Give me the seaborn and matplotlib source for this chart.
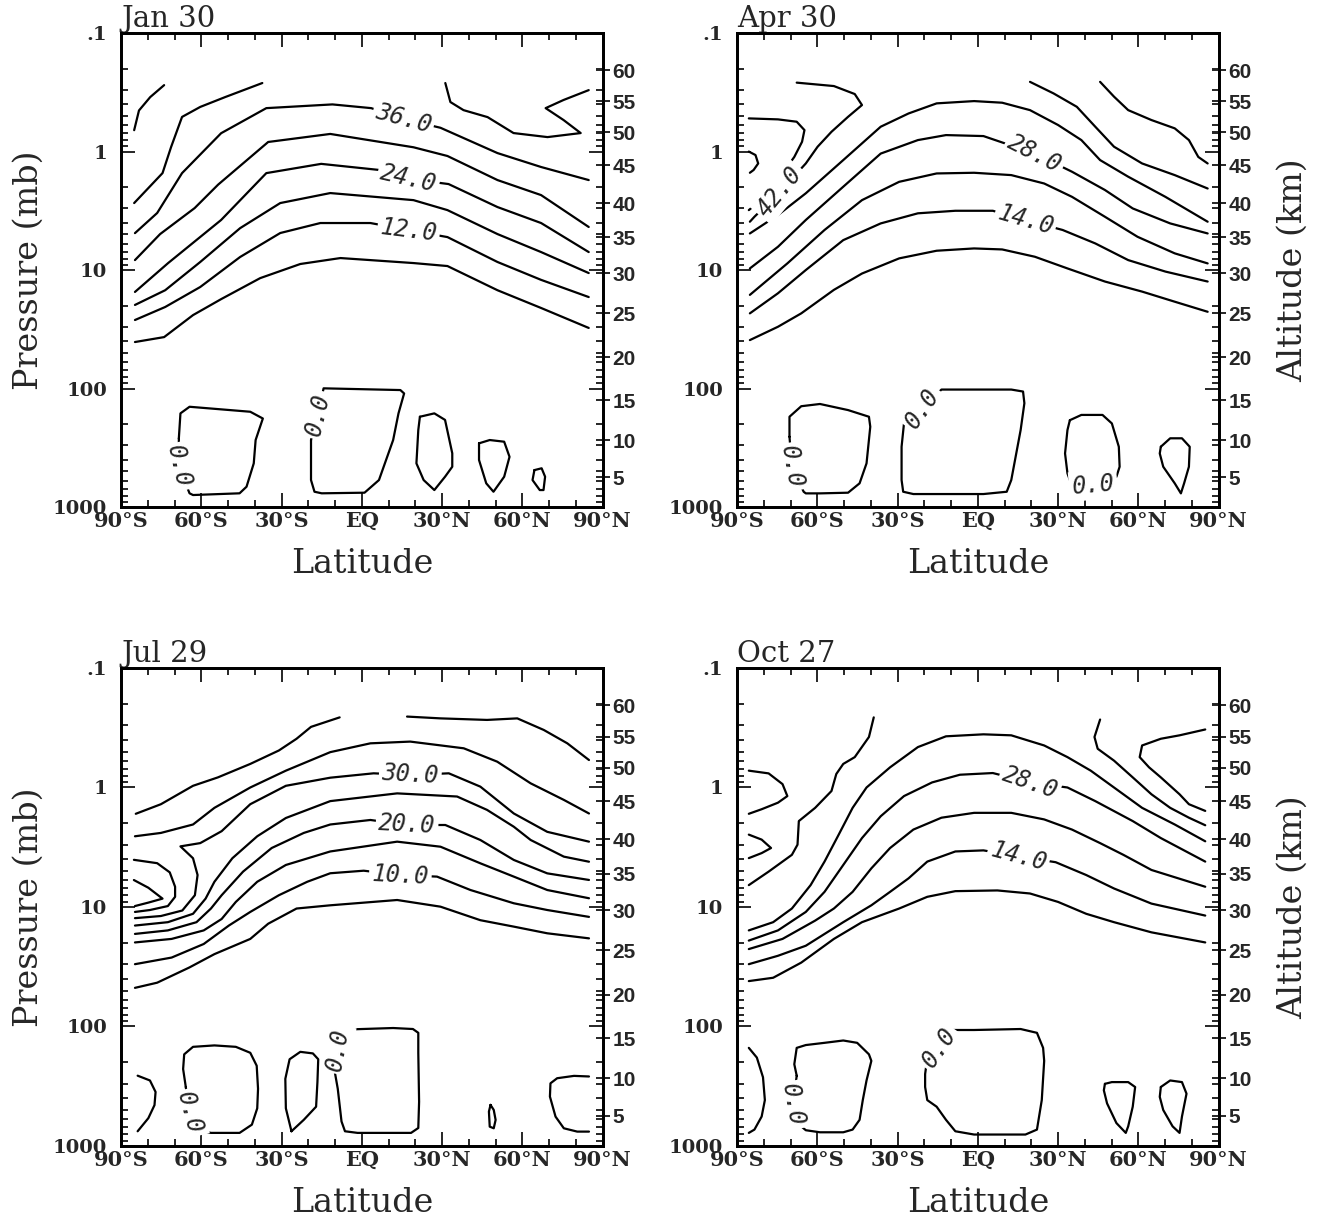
import pandas as pd
import matplotlib
matplotlib.use("Agg")
import matplotlib.pyplot as plt
import matplotlib.ticker as mticker
import seaborn as sns

OUT_PATH = "out.png"

LAT_TICKS = [-90, -60, -30, 0, 30, 60, 90]
LAT_LABELS = ["90°S", "60°S", "30°S", "EQ", "30°N", "60°N", "90°N"]
P_TICKS = [0.1, 1, 10, 100, 1000]
P_LABELS = [".1", "1", "10", "100", "1000"]
ALT_KM = [5, 10, 15, 20, 25, 30, 35, 40, 45, 50, 55, 60]
ALT_P = [559, 272, 125, 54.2, 23.1, 10.6, 5.27, 2.72, 1.30, 0.684, 0.375, 0.205]

# contour lines as (latitude, pressure mb) pairs

# --- Jan 30 ---
JAN_48 = [(-85.1, 0.66), (-83.3, 0.45), (-79.1, 0.347), (-73.9, 0.275)]
JAN_42 = [(-85.1, 2.72), (-74.5, 1.52), (-71.3, 0.916), (-67.2, 0.51), (-60.4, 0.42),
          (-51.1, 0.347), (-37.2, 0.264)]
JAN_36 = [(-84.8, 4.88), (-76.5, 3.30), (-67.2, 1.52), (-52.6, 0.70), (-35.7, 0.43),
          (-11.0, 0.40), (3.5, 0.43), (15.5, 0.53), (29.4, 0.63), (50.7, 1.03),
          (67.0, 1.35), (84.8, 1.74)]
JAN_30 = [(-84.8, 8.24), (-75.4, 4.97), (-62.5, 3.0), (-53.7, 1.9), (-35.0, 0.83),
          (-11.8, 0.71), (19.3, 0.92), (32.0, 1.09), (50.7, 1.74), (67.0, 2.33),
          (84.8, 4.33)]
JAN_24 = [(-84.8, 15.3), (-72.4, 8.73), (-52.6, 3.78), (-35.7, 1.52), (-15.2, 1.27),
          (6.5, 1.43), (17.4, 1.70), (32.4, 1.88), (50.7, 2.94), (67.0, 4.01),
          (84.8, 7.05)]
JAN_18 = [(-84.8, 19.7), (-73.5, 14.8), (-60.4, 8.55), (-45.5, 4.43), (-30.5, 2.72),
          (-11.8, 2.24), (19.3, 2.57), (32.0, 3.12), (50.7, 4.97), (67.0, 7.05),
          (84.8, 10.6)]
JAN_12 = [(-84.8, 26.4), (-73.5, 20.5), (-60.4, 13.9), (-45.5, 7.76), (-30.5, 4.87),
          (-15.5, 4.01), (3.2, 4.01), (17.5, 4.6), (32.0, 5.27), (50.7, 8.55),
          (67.0, 12.1), (84.8, 16.9)]
JAN_06 = [(-84.8, 40.5), (-73.9, 36.8), (-63.1, 24.0), (-52.6, 17.6), (-38.0, 11.7),
          (-23.0, 8.89), (-8.0, 7.92), (19.3, 8.73), (32.0, 9.25), (50.7, 14.8),
          (67.0, 20.9), (84.8, 30.8)]
JAN_TOP = [(31.2, 0.264), (33.1, 0.382), (38.0, 0.447), (47.0, 0.512), (56.7, 0.698),
           (69.4, 0.755), (81.8, 0.698), (75.4, 0.542), (68.7, 0.430), (75.4, 0.367),
           (84.8, 0.303)]
JAN_Z1 = [(-68.4, 263), (-67.8, 162), (-64.4, 142.5), (-41.7, 157), (-37.0, 179),
          (-39.7, 272), (-40.4, 428), (-43.1, 674), (-45.7, 766), (-63.1, 792),
          (-64.4, 766), (-68.4, 457), (-68.4, 263)]
JAN_Z2 = [(-19.0, 272), (-19.0, 592), (-17.7, 743), (-15.0, 766), (1.0, 757), (6.4, 592),
          (11.7, 272), (13.7, 162), (15.8, 110), (14.4, 103), (-14.3, 99.6),
          (-16.4, 167), (-19.0, 272)]
JAN_Z3 = [(21.7, 173), (27.1, 162), (31.1, 184), (33.8, 352), (33.8, 457), (31.1, 555),
          (27.1, 719), (23.1, 592), (20.4, 428), (21.1, 224), (21.7, 173)]
JAN_Z4 = [(43.8, 290), (47.8, 272), (53.2, 281), (55.2, 377), (53.2, 555), (49.2, 743),
          (46.5, 631), (43.8, 401), (43.8, 290)]
JAN_Z5 = [(64.5, 488), (67.2, 471), (68.5, 555), (67.9, 719), (66.5, 719), (63.8, 592),
          (64.5, 488)]
JAN_TEXT = [("36.0", 15.5, 0.53, -15), ("24.0", 17.4, 1.70, -13), ("12.0", 17.5, 4.6, -7),
            ("0.0", -68.4, 457, -77), ("0.0", -16.4, 167, 77)]

# --- Apr 30 ---
APR_T1 = [(45.7, 0.258), (50.9, 0.344), (56.2, 0.447), (64.9, 0.542), (73.6, 0.637),
          (78.9, 0.800), (82.4, 1.11), (85.9, 1.26)]
APR_T2 = [(19.5, 0.258), (28.3, 0.323), (37.0, 0.419), (43.9, 0.617), (50.9, 0.910),
          (61.4, 1.26), (73.6, 1.58), (85.9, 2.05)]
APR_42 = [(-67.7, 0.262), (-53.8, 0.280), (-46.0, 0.327), (-43.3, 0.405), (-48.5, 0.509),
          (-54.7, 0.681), (-59.9, 0.911), (-64.3, 1.26), (-73.9, 2.18), (-83.5, 3.55),
          (-85.2, 3.91)]
APR_49 = [(-85.6, 0.525), (-74.7, 0.535), (-67.7, 0.560), (-64.8, 0.659), (-65.7, 0.827),
          (-68.6, 1.11), (-73.0, 1.53), (-78.2, 2.11), (-82.6, 2.74), (-85.6, 3.12)]
APR_HOOK = [(-85.6, 1.00), (-83.1, 1.07), (-82.1, 1.26), (-83.8, 1.43), (-85.2, 1.51)]
APR_35 = [(-85.2, 4.91), (-74.7, 3.43), (-64.3, 2.25), (-50.3, 1.18), (-36.3, 0.617),
          (-25.9, 0.477), (-15.4, 0.392), (-1.4, 0.375), (9.1, 0.387), (19.5, 0.447),
          (30.0, 0.597), (38.7, 0.800), (45.7, 1.18), (56.2, 1.63), (70.1, 2.41),
          (85.9, 3.91)]
APR_28 = [(-85.2, 9.69), (-74.7, 6.36), (-64.3, 3.78), (-50.3, 1.98), (-36.3, 1.04),
          (-22.4, 0.800), (-11.9, 0.726), (2.1, 0.740), (21.3, 1.04), (35.2, 1.48),
          (47.5, 2.11), (57.9, 3.02), (71.9, 4.04), (85.9, 4.91)]
APR_21 = [(-85.2, 16.2), (-71.2, 8.79), (-57.3, 4.59), (-43.3, 2.57), (-29.4, 1.80),
          (-15.4, 1.53), (-1.4, 1.51), (12.5, 1.58), (24.8, 1.86), (35.2, 2.41),
          (47.5, 3.55), (59.7, 5.24), (73.6, 7.23), (85.9, 8.79)]
APR_14 = [(-85.2, 23.2), (-74.7, 15.7), (-64.3, 10.0), (-50.3, 5.59), (-36.3, 4.04),
          (-22.4, 3.32), (-8.4, 3.16), (5.6, 3.16), (17.8, 3.78), (31.7, 4.59),
          (43.9, 5.96), (56.2, 8.24), (70.1, 10.3), (85.9, 12.5)]
APR_07 = [(-85.2, 39.0), (-74.7, 30.1), (-66.0, 23.2), (-53.8, 14.7), (-43.3, 10.7),
          (-29.4, 7.97), (-15.4, 6.87), (-1.4, 6.57), (9.1, 6.70), (21.3, 7.72),
          (33.5, 9.69), (47.5, 12.5), (61.4, 15.2), (73.6, 18.5), (85.9, 22.5)]
APR_Z1 = [(-70.4, 255), (-70.4, 173), (-66.0, 141), (-59.0, 135), (-48.5, 152),
          (-40.7, 173), (-40.2, 210), (-41.6, 428), (-44.2, 631), (-48.5, 757),
          (-59.0, 767), (-64.3, 767), (-65.1, 743), (-69.5, 457), (-70.4, 255)]
APR_Z2 = [(-27.6, 197), (-28.5, 310), (-28.5, 592), (-27.9, 743), (-24.1, 777), (2.1, 777),
          (10.8, 743), (12.5, 592), (16.0, 224), (17.4, 133), (16.9, 106), (12.5, 102),
          (-13.6, 102), (-20.6, 147), (-27.6, 197)]
APR_Z3 = [(34.4, 185), (38.7, 167), (46.6, 167), (50.1, 197), (52.7, 310), (53.0, 457),
          (51.8, 555), (43.1, 652), (34.4, 592), (33.5, 520), (32.6, 353), (33.5, 224),
          (34.4, 185)]
APR_Z4 = [(68.4, 310), (71.9, 263), (76.3, 263), (79.2, 310), (78.9, 457), (77.1, 631),
          (75.9, 767), (73.6, 631), (69.3, 457), (68.0, 353), (68.4, 310)]
APR_TEXT = [("42.0", -73.9, 2.18, 50), ("28.0", 21.3, 1.04, -27), ("14.0", 17.8, 3.78, -16),
            ("0.0", -69.5, 457, -80), ("0.0", -20.6, 147, 55), ("0.0", 43.1, 652, 5)]

# --- Jul 29 ---
JUL_40A = [(-84.5, 1.66), (-75.1, 1.38), (-63.1, 0.968), (-53.8, 0.823), (-41.7, 0.635),
           (-31.0, 0.490), (-24.4, 0.391), (-19.0, 0.311), (-8.3, 0.259)]
JUL_40B = [(16.9, 0.255), (29.4, 0.264), (46.8, 0.272), (58.1, 0.264), (68.0, 0.330),
           (76.8, 0.427), (84.9, 0.589)]
JUL_35 = [(-84.8, 2.56), (-75.1, 2.40), (-63.1, 2.04), (-55.1, 1.48), (-41.7, 1.0),
          (-28.4, 0.723), (-11.8, 0.506), (3.2, 0.427), (18.1, 0.413), (38.1, 0.470),
          (50.6, 0.608), (63.1, 0.923), (75.5, 1.27), (84.9, 1.65)]
JUL_30 = [(-84.8, 12.4), (-75.1, 11.9), (-67.1, 10.7), (-62.4, 7.97), (-61.4, 5.40),
          (-63.1, 3.91), (-67.8, 3.11), (-60.4, 2.92), (-52.4, 2.32), (-41.7, 1.38),
          (-28.4, 0.968), (-11.8, 0.828), (4.4, 0.761), (18.1, 0.786), (32.5, 0.761),
          (44.3, 0.984), (56.8, 1.65), (69.3, 2.35), (84.9, 2.84)]
JUL_POLE = [(-85.2, 4.03), (-76.5, 4.30), (-71.8, 5.13), (-69.8, 6.77), (-69.8, 8.22),
            (-72.5, 9.82), (-79.2, 10.6), (-84.8, 11.0)]
JUL_TONGUE = [(-85.2, 5.95), (-79.8, 6.90), (-74.5, 8.51), (-79.8, 9.19), (-84.8, 9.82)]
JUL_25 = [(-84.8, 14.3), (-72.5, 13.4), (-63.1, 11.4), (-58.4, 8.51), (-55.1, 6.15),
          (-48.4, 3.91), (-39.1, 2.56), (-28.4, 1.80), (-11.8, 1.30), (13.2, 1.12),
          (35.6, 1.19), (46.8, 1.54), (56.8, 2.13), (63.1, 2.75), (75.5, 3.79), (84.9, 4.18)]
JUL_20 = [(-84.8, 16.8), (-72.5, 15.7), (-61.8, 13.4), (-56.4, 10.3), (-52.4, 7.97),
          (-44.4, 5.06), (-33.7, 3.21), (-21.7, 2.40), (-11.8, 2.04), (3.2, 1.87),
          (16.9, 2.06), (31.2, 2.06), (44.3, 2.75), (56.8, 4.04), (69.3, 5.23), (84.9, 5.94)]
JUL_15 = [(-84.8, 19.8), (-71.1, 18.5), (-59.1, 15.7), (-52.4, 12.6), (-47.1, 9.07),
          (-39.1, 6.15), (-28.4, 4.45), (-11.8, 3.43), (13.2, 2.84), (29.4, 3.13),
          (44.3, 4.31), (56.8, 5.57), (69.3, 7.21), (84.9, 8.45)]
JUL_10 = [(-84.8, 30.1), (-71.1, 26.5), (-59.1, 20.4), (-49.7, 14.3), (-41.7, 11.0),
          (-31.0, 7.97), (-20.4, 6.15), (-11.8, 5.22), (0.7, 4.97), (14.4, 5.40),
          (28.1, 5.57), (40.6, 7.21), (56.8, 9.31), (69.3, 10.6), (84.9, 12.1)]
JUL_05 = [(-84.8, 47.5), (-76.5, 43.0), (-64.5, 32.1), (-55.1, 24.8), (-41.7, 18.5),
          (-35.0, 13.8), (-24.4, 10.3), (-11.8, 9.68), (13.2, 8.74), (29.4, 9.94),
          (44.3, 12.9), (56.8, 14.6), (69.3, 16.6), (84.9, 18.3)]
JUL_ZA = [(-83.8, 258), (-79.2, 283), (-77.1, 353), (-77.5, 455), (-79.8, 585), (-83.8, 753)]
JUL_ZB = [(-65.8, 321), (-66.8, 227), (-66.4, 171), (-63.1, 148), (-55.1, 144),
          (-47.1, 148), (-41.7, 166), (-39.3, 213), (-38.8, 332), (-39.1, 484),
          (-41.1, 663), (-45.7, 777), (-56.4, 777), (-59.1, 753), (-64.5, 532), (-65.8, 321)]
JUL_ZC = [(-26.3, 753), (-28.4, 484), (-28.6, 274), (-27.0, 188), (-23.0, 163),
          (-18.3, 168), (-16.3, 188), (-16.6, 292), (-17.1, 469), (-21.7, 604), (-26.3, 753)]
JUL_ZD = [(-10.3, 227), (-9.0, 332), (-7.6, 623), (-6.3, 753), (-1.6, 777), (18.4, 777),
          (21.1, 707), (21.4, 427), (21.1, 166), (21.1, 113), (19.1, 105), (11.7, 103),
          (-5.6, 106), (-7.0, 108), (-9.0, 156), (-10.3, 227)]
JUL_ZE = [(48.1, 453), (49.3, 499), (50.0, 605), (49.3, 711), (47.8, 689), (47.5, 515),
          (48.1, 453)]
JUL_ZF = [(84.9, 262), (79.3, 259), (73.0, 271), (70.5, 299), (70.3, 386), (72.4, 568),
          (75.5, 711), (80.5, 758), (84.9, 758)]
JUL_TEXT = [("30.0", 18.1, 0.786, -3), ("20.0", 16.9, 2.06, -3), ("10.0", 14.4, 5.40, -3),
            ("0.0", -64.5, 532, -75), ("0.0", -9.0, 156, 80)]

# --- Oct 27 ---
OCT_42A = [(-85.6, 6.56), (-78.2, 5.06), (-69.5, 3.66), (-67.4, 3.01), (-66.9, 1.91),
           (-60.8, 1.48), (-54.7, 1.07), (-52.9, 0.771), (-50.3, 0.635), (-46.0, 0.557),
           (-40.7, 0.378), (-38.9, 0.259)]
OCT_42B = [(45.7, 0.270), (43.6, 0.378), (44.8, 0.474), (50.9, 0.596), (57.9, 0.823),
           (64.9, 1.14), (71.9, 1.48), (78.9, 1.79), (85.0, 2.07)]
OCT_49A = [(-85.6, 0.723), (-78.2, 0.762), (-73.0, 0.937), (-71.2, 1.18), (-74.7, 1.34),
           (-80.8, 1.52), (-85.6, 1.66)]
OCT_V = [(-85.6, 2.48), (-80.8, 2.73), (-77.3, 3.21), (-80.8, 3.54), (-85.6, 3.90)]
OCT_49B = [(85.0, 0.327), (75.4, 0.366), (68.4, 0.391), (61.4, 0.445), (60.5, 0.557),
           (64.0, 0.678), (68.4, 0.823), (75.4, 1.14), (78.9, 1.38), (85.0, 1.57)]
OCT_35 = [(-85.6, 15.7), (-76.5, 13.4), (-69.5, 10.3), (-62.5, 6.56), (-57.3, 4.17),
          (-52.0, 2.48), (-46.8, 1.48), (-41.6, 1.0), (-32.8, 0.678), (-22.4, 0.459),
          (-11.9, 0.373), (2.1, 0.359), (12.5, 0.366), (24.8, 0.445), (33.5, 0.557),
          (42.2, 0.723), (50.9, 1.0), (61.4, 1.48), (73.6, 2.04), (85.0, 2.82)]
OCT_28 = [(-85.6, 19.1), (-74.7, 15.7), (-64.3, 11.0), (-57.3, 7.47), (-50.3, 4.45),
          (-43.3, 2.65), (-36.3, 1.74), (-27.6, 1.18), (-17.1, 0.907), (-6.7, 0.782),
          (5.6, 0.757), (19.5, 0.907), (33.5, 1.0), (43.9, 1.30), (57.9, 1.91),
          (68.4, 2.65), (85.0, 4.17)]
OCT_21 = [(-85.6, 22.5), (-73.0, 18.5), (-60.8, 13.0), (-53.8, 10.3), (-46.8, 7.47),
          (-39.8, 4.75), (-32.8, 3.21), (-24.1, 2.25), (-13.6, 1.79), (-1.4, 1.63),
          (12.5, 1.63), (24.8, 1.85), (35.2, 2.25), (45.7, 2.92), (54.4, 3.66),
          (64.9, 4.90), (85.0, 6.77)]
OCT_14 = [(-85.6, 30.1), (-74.7, 25.6), (-64.3, 21.1), (-50.3, 13.4), (-39.8, 9.68),
          (-32.8, 7.47), (-25.9, 5.76), (-18.9, 4.17), (-8.4, 3.43), (2.1, 3.36),
          (15.2, 3.77), (29.1, 4.22), (40.5, 5.40), (50.9, 7.0), (64.9, 9.37), (85.0, 11.8)]
OCT_07 = [(-85.6, 41.7), (-76.5, 39.1), (-66.0, 29.2), (-53.8, 18.5), (-43.3, 13.4),
          (-29.4, 10.3), (-18.9, 8.22), (-8.4, 7.37), (7.3, 7.27), (19.5, 7.71),
          (30.0, 9.07), (40.5, 11.4), (50.9, 13.4), (64.9, 16.3), (85.0, 19.8)]
OCT_ZA = [(-85.6, 151), (-82.6, 182), (-80.3, 266), (-79.6, 413), (-80.8, 567),
          (-83.5, 729), (-85.6, 777)]
OCT_ZB = [(-67.7, 258), (-68.6, 207), (-67.7, 151), (-64.3, 143), (-57.3, 137),
          (-50.3, 131), (-45.1, 137), (-40.7, 171), (-39.8, 194), (-41.6, 283),
          (-43.0, 413), (-44.2, 604), (-46.8, 729), (-50.3, 768), (-59.0, 768),
          (-64.3, 738), (-66.0, 685), (-69.1, 455), (-67.7, 258)]
OCT_ZC = [(-10.2, 107), (-1.4, 107), (16.0, 105), (22.1, 113), (24.4, 151), (24.8, 194),
          (23.9, 413), (22.1, 729), (17.8, 802), (-1.4, 802), (-8.4, 753), (-11.9, 604),
          (-15.4, 469), (-18.9, 413), (-19.7, 321), (-19.7, 250), (-19.2, 207),
          (-14.5, 151), (-10.2, 107)]
OCT_ZD = [(47.5, 302), (50.1, 292), (56.2, 292), (58.8, 321), (57.9, 469), (56.2, 685),
          (55.3, 777), (51.8, 643), (48.3, 440), (47.1, 342), (47.5, 302)]
OCT_ZE = [(68.4, 321), (71.9, 283), (76.3, 292), (78.0, 365), (76.3, 567), (75.4, 777),
          (72.8, 685), (69.3, 500), (68.0, 388), (68.4, 321)]
OCT_TEXT = [("28.0", 19.5, 0.907, -19), ("14.0", 15.2, 3.77, -15),
            ("0.0", -69.1, 455, -80), ("0.0", -14.5, 151, 55)]

PANELS = [
    ("Jan 30", [JAN_48, JAN_42, JAN_36, JAN_30, JAN_24, JAN_18, JAN_12, JAN_06, JAN_TOP,
                JAN_Z1, JAN_Z2, JAN_Z3, JAN_Z4, JAN_Z5], JAN_TEXT),
    ("Apr 30", [APR_T1, APR_T2, APR_42, APR_49, APR_HOOK, APR_35, APR_28, APR_21, APR_14,
                APR_07, APR_Z1, APR_Z2, APR_Z3, APR_Z4], APR_TEXT),
    ("Jul 29", [JUL_40A, JUL_40B, JUL_35, JUL_30, JUL_POLE, JUL_TONGUE, JUL_25, JUL_20,
                JUL_15, JUL_10, JUL_05, JUL_ZA, JUL_ZB, JUL_ZC, JUL_ZD, JUL_ZE, JUL_ZF],
     JUL_TEXT),
    ("Oct 27", [OCT_42A, OCT_42B, OCT_49A, OCT_V, OCT_49B, OCT_35, OCT_28, OCT_21, OCT_14,
                OCT_07, OCT_ZA, OCT_ZB, OCT_ZC, OCT_ZD, OCT_ZE], OCT_TEXT),
]

AX_RECTS = [
    [0.0915, 0.5861, 0.3640, 0.3869],
    [0.5571, 0.5861, 0.3640, 0.3869],
    [0.0915, 0.0645, 0.3640, 0.3902],
    [0.5571, 0.0645, 0.3640, 0.3902],
]

SERIF = "DejaVu Serif"
XTICK_FONT = dict(family=SERIF, weight="bold", size=15)
YTICK_FONT = dict(family=SERIF, weight="bold", size=14)
ALT_FONT = dict(family="Liberation Sans", weight="bold", size=15)
LABEL_FONT = dict(family=SERIF, size=24)
CLABEL_FONT = dict(family="DejaVu Sans Mono", style="oblique", size=17)


def lines_frame(lines):
    frames = []
    for i, pts in enumerate(lines):
        d = pd.DataFrame(pts, columns=["lat", "p"])
        d["line"] = i
        frames.append(d)
    return pd.concat(frames, ignore_index=True)


def draw_panel(fig, rect, title, lines, texts, left_col):
    ax = fig.add_axes(rect)
    ax.set_yscale("log")
    df = lines_frame(lines)
    sns.lineplot(data=df, x="lat", y="p", units="line", estimator=None, sort=False,
                 color="black", linewidth=1.6, ax=ax, legend=False)
    for ln in ax.get_lines():
        ln.set_solid_joinstyle("round")
        ln.set_solid_capstyle("round")

    for txt, lat, p, rot in texts:
        ax.text(lat, p, txt, rotation=rot, rotation_mode="anchor", ha="center", va="center",
                zorder=5, bbox=dict(boxstyle="square,pad=0.12", fc="white", ec="none"),
                **CLABEL_FONT)

    ax.set_xlim(-90, 90)
    ax.set_ylim(1000, 0.1)
    ax.set_xticks(LAT_TICKS)
    ax.set_xticklabels(LAT_LABELS)
    ax.xaxis.set_minor_locator(mticker.MultipleLocator(10))
    ax.set_yticks(P_TICKS)
    ax.set_yticklabels(P_LABELS)
    ax.yaxis.set_minor_locator(mticker.LogLocator(base=10, subs=range(2, 10), numticks=20))
    ax.yaxis.set_minor_formatter(mticker.NullFormatter())

    alt = ax.twinx()
    alt.set_yscale("log")
    alt.set_ylim(1000, 0.1)
    alt.set_yticks(ALT_P)
    alt.set_yticklabels([str(k) for k in ALT_KM])
    alt.yaxis.set_minor_locator(mticker.NullLocator())
    alt.tick_params(axis="y", direction="inout", length=10, width=1.4, pad=2)
    for lab in alt.get_yticklabels():
        lab.set(**ALT_FONT)

    ax.tick_params(which="both", direction="in", top=True, bottom=True, left=True,
                   right=True, labelright=False, width=1.4)
    ax.tick_params(which="major", length=10)
    ax.tick_params(which="minor", length=5)
    ax.tick_params(axis="x", pad=3)
    ax.tick_params(axis="y", pad=10)
    for lab in ax.get_xticklabels():
        lab.set(**XTICK_FONT)
    for lab in ax.get_yticklabels():
        lab.set(**YTICK_FONT)

    for a in (ax, alt):
        for s in a.spines.values():
            s.set_linewidth(2.0)
            s.set_color("black")

    ax.set_xlabel("Latitude", labelpad=12, **LABEL_FONT)
    if left_col:
        ax.set_ylabel("Pressure (mb)", labelpad=6, **LABEL_FONT)
    else:
        ax.set_ylabel("")
        alt.set_ylabel("Altitude (km)", labelpad=18, **LABEL_FONT)
    ax.set_title(title, loc="left", pad=2, family=SERIF, size=21)
    return ax


def main():
    sns.set_theme(style="ticks")
    plt.rcParams["font.family"] = [SERIF, "DejaVu Sans"]
    plt.rcParams["axes.edgecolor"] = "black"

    fig = plt.figure(figsize=(13.23, 12.25), dpi=100)
    for i, (title, lines, texts) in enumerate(PANELS):
        draw_panel(fig, AX_RECTS[i], title, lines, texts, left_col=(i % 2 == 0))
    fig.savefig(OUT_PATH, dpi=100, facecolor="white")
    plt.close(fig)


if __name__ == "__main__":
    main()
